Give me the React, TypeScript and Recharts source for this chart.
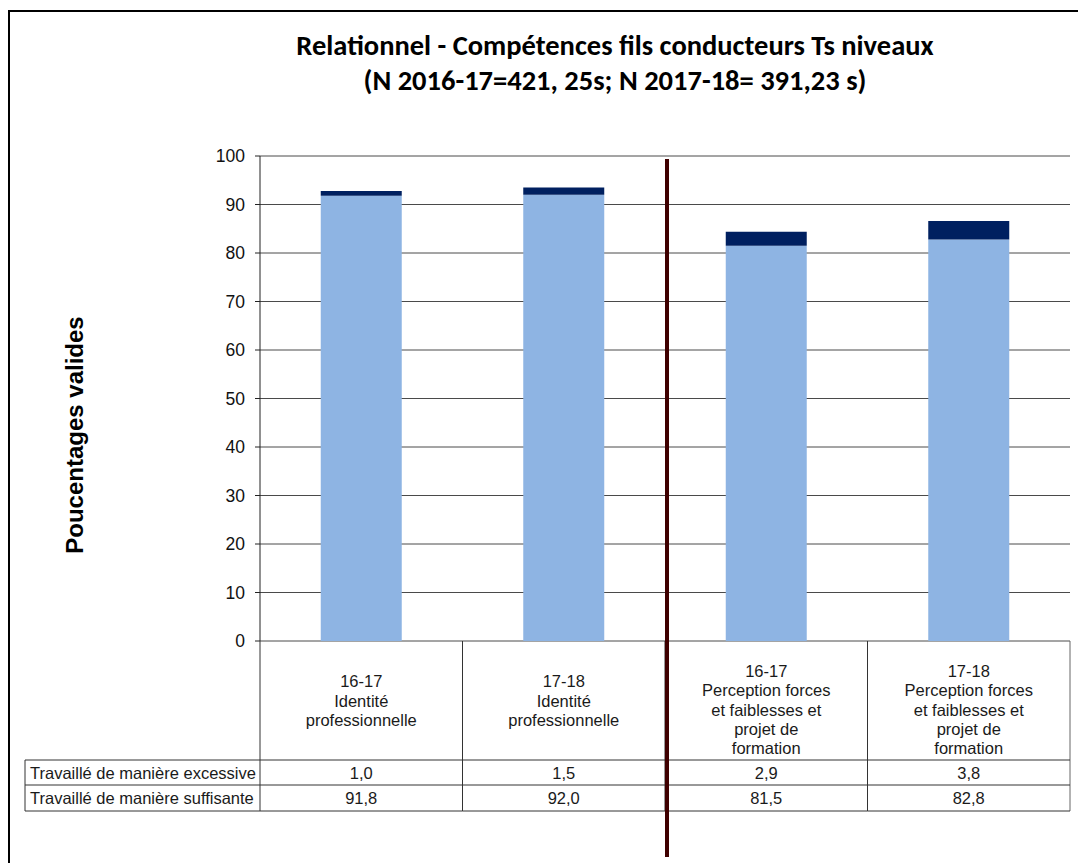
import { Bar, BarChart, CartesianGrid, XAxis, YAxis } from 'recharts'

const categories = [
  '16-17\nIdentité\nprofessionnelle',
  '17-18\nIdentité\nprofessionnelle',
  '16-17\nPerception forces\net faiblesses et\nprojet de\nformation',
  '17-18\nPerception forces\net faiblesses et\nprojet de\nformation',
]
const suffisante = [91.8, 92.0, 81.5, 82.8]
const excessive = [1.0, 1.5, 2.9, 3.8]
const yTicks = [0, 10, 20, 30, 40, 50, 60, 70, 80, 90, 100]
const rowLabels = ['Travaillé de manière excessive', 'Travaillé de manière suffisante']
const rowSeries = [excessive, suffisante]

const W = 1078
const H = 863
const PLOT_LEFT = 260
const PLOT_RIGHT = 1070
const PLOT_TOP = 156
const PLOT_BOTTOM = 641
const ROW1 = 760
const ROW2 = 785
const ROW_END = 811
const LABEL_LEFT = 25
const BAND = (PLOT_RIGHT - PLOT_LEFT) / categories.length
const LINE = '#333'
const FONT = '"Liberation Sans", Arial, sans-serif'

const data = categories.map((name, i) => ({ name, suffisante: suffisante[i], excessive: excessive[i] }))
const fmt = (v: number) => v.toFixed(1).replace('.', ',')

function TableTick({ x, payload, index }: { x?: number; payload?: { value: string }; index?: number }) {
  const cx = x ?? 0
  const i = index ?? 0
  const lines = (payload?.value ?? '').split('\n')
  const first = Math.max(671, (PLOT_BOTTOM + ROW1) / 2 - ((lines.length - 1) * 19.3) / 2)
  const left = cx - BAND / 2
  const right = cx + BAND / 2
  return <g>
    {lines.map((line, k) => <text key={k} x={cx} y={first + k * 19.3} textAnchor="middle" dominantBaseline="central" fontFamily={FONT} fontSize={16.5} fill="#1a1a1a">{line}</text>)}
    <line x1={left} x2={left} y1={PLOT_BOTTOM} y2={ROW_END} stroke={LINE} />
    {i === categories.length - 1 ? <line x1={right} x2={right} y1={PLOT_BOTTOM} y2={ROW_END} stroke="#666" /> : null}
    {[ROW1, ROW2, ROW_END].map((yy) => <line key={yy} x1={left} x2={right} y1={yy} y2={yy} stroke={LINE} />)}
    {rowSeries.map((series, r) => <text key={r} x={cx} y={(r === 0 ? (ROW1 + ROW2) : (ROW2 + ROW_END)) / 2} textAnchor="middle" dominantBaseline="central" fontFamily={FONT} fontSize={16.5} fill="#1a1a1a">{fmt(series[i])}</text>)}
    {i === 0 ? <g>
      <line x1={LABEL_LEFT} x2={LABEL_LEFT} y1={ROW1} y2={ROW_END} stroke={LINE} />
      {[ROW1, ROW2, ROW_END].map((yy) => <line key={yy} x1={LABEL_LEFT} x2={left} y1={yy} y2={yy} stroke={LINE} />)}
      {rowLabels.map((label, r) => <text key={label} x={LABEL_LEFT + 5} y={(r === 0 ? (ROW1 + ROW2) : (ROW2 + ROW_END)) / 2} dominantBaseline="central" fontFamily={FONT} fontSize={16.5} fill="#1a1a1a">{label}</text>)}
    </g> : null}
    {i === 2 ? <line x1={left + 2} x2={left + 2} y1={159} y2={857} stroke="#3f0000" strokeWidth={4} /> : null}
  </g>
}

export default function App() {
  return <div style={{ position: 'absolute', left: 0, top: 0, width: W, height: H, overflow: 'hidden', background: '#fff' }}>
    <div style={{ position: 'absolute', left: 8, top: 10, width: W, height: H, border: '2px solid #000', boxSizing: 'border-box' }} />
    <div style={{ position: 'absolute', left: 150, width: 930, top: 28, textAlign: 'center', fontFamily: 'Carlito, "Liberation Sans Narrow", "Open Sans", sans-serif', fontWeight: 700, fontSize: 28.5, lineHeight: '35px', color: '#000' }}>
      <div>Relationnel - Compétences fils conducteurs Ts niveaux</div>
      <div>(N 2016-17=421, 25s; N 2017-18= 391,23 s)</div>
    </div>
    <div style={{ position: 'absolute', left: 75, top: 435, transform: 'translate(-50%, -50%) rotate(-90deg)', whiteSpace: 'nowrap', fontFamily: FONT, fontWeight: 700, fontSize: 24, color: '#000' }}>
      Poucentages valides
    </div>
    <div style={{ position: 'absolute', left: 0, top: 0 }}>
      <BarChart width={W} height={H} data={data} margin={{ top: PLOT_TOP, right: W - PLOT_RIGHT, bottom: 0, left: PLOT_LEFT - 60 }} barCategoryGap="30%">
        <CartesianGrid vertical={false} stroke="#4a4a4a" />
        <XAxis dataKey="name" height={H - PLOT_BOTTOM} axisLine={false} tickLine={false} interval={0} tick={<TableTick />} />
        <YAxis width={60} domain={[0, 100]} ticks={yTicks} interval={0} tickSize={5} tickMargin={10} axisLine={{ stroke: '#222' }} tickLine={{ stroke: '#222' }} tick={{ fill: '#111', fontSize: 17.5, fontFamily: FONT }} />
        <Bar dataKey="suffisante" stackId="a" fill="#8EB4E3" isAnimationActive={false} />
        <Bar dataKey="excessive" stackId="a" fill="#002060" isAnimationActive={false} />
      </BarChart>
    </div>
  </div>
}
